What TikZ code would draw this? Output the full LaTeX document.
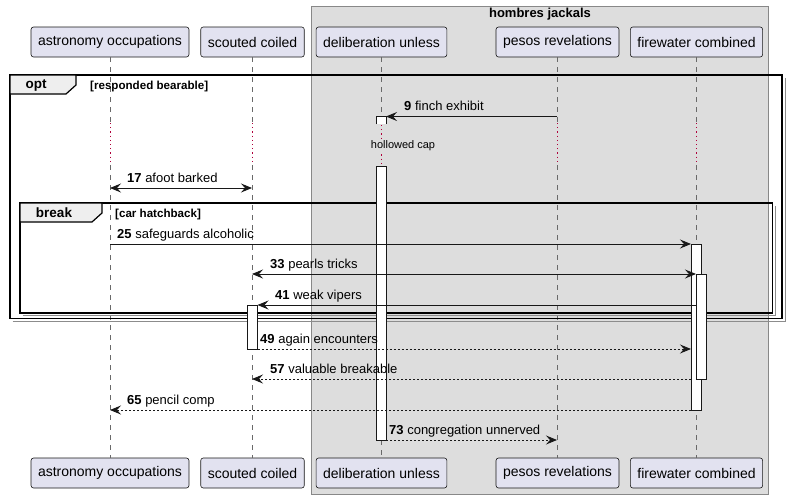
\documentclass[tikz,border=0pt]{standalone}
\usepackage{fontspec}
\setmainfont{Liberation Sans}
\usetikzlibrary{arrows.meta}
\definecolor{partfill}{HTML}{E2E2F0}
\definecolor{ink}{HTML}{181818}
\definecolor{grpfill}{HTML}{DDDDDD}
\definecolor{grpline}{HTML}{888888}
\definecolor{tabfill}{HTML}{EEEEEE}
\definecolor{delayred}{HTML}{B0003A}
\tikzset{
  part/.style={draw=ink, fill=partfill, rounded corners=2.5pt, minimum height=30pt,
    inner xsep=7pt, font=\fontsize{14}{16}\selectfont, line width=0.6pt},
  life/.style={draw=ink!65, dash pattern=on 5pt off 5pt, line width=0.6pt},
  delayline/.style={draw=delayred, dash pattern=on 1.2pt off 3pt, line width=1pt},
  act/.style={draw=ink, fill=white, line width=0.8pt},
  tip/.tip={Stealth[length=11pt,width=9pt,inset=4pt]},
  msg/.style={draw=ink, line width=0.9pt, -tip},
  bimsg/.style={draw=ink, line width=0.9pt, tip-tip},
  dmsg/.style={msg, dash pattern=on 2pt off 2pt},
  lbl/.style={anchor=base west, font=\fontsize{13}{15}\selectfont, inner sep=0pt},
  frame/.style={draw=black, line width=1.5pt},
  shadow/.style={draw=black!45, line width=1pt},
  tab/.style={draw=black, fill=tabfill, line width=1.2pt},
  tabtext/.style={font=\bfseries\fontsize{13.5}{15}\selectfont, inner sep=0pt},
  guard/.style={anchor=base west, font=\bfseries\fontsize{11.6}{13}\selectfont, inner sep=0pt},
  grptitle/.style={font=\bfseries\fontsize{13}{15}\selectfont, inner sep=0pt},
  delaytext/.style={font=\fontsize{11}{13}\selectfont, inner sep=1pt}
}
\begin{document}
\begin{tikzpicture}[x=1pt,y=-1pt]
\useasboundingbox (0,0) rectangle (788,499);
\fill[white] (0,0) rectangle (788,499);
% group box
\draw[draw=grpline, fill=grpfill, line width=0.8pt] (311,6) rectangle (768,494);
\node[grptitle] (gt) at (540,14) {hombres jackals};
% participants
\node[part] (p1t) at (110,42) {astronomy occupations};
\node[part] (p2t) at (252.5,42) {scouted coiled};
\node[part] (p3t) at (381.5,42) {deliberation unless};
\node[part] (p4t) at (557.5,42) {pesos revelations};
\node[part] (p5t) at (696.5,42) {firewater combined};
\node[part] (p1b) at (110,473) {astronomy occupations};
\node[part] (p2b) at (252.5,473) {scouted coiled};
\node[part] (p3b) at (381.5,473) {deliberation unless};
\node[part] (p4b) at (557.5,473) {pesos revelations};
\node[part] (p5b) at (696.5,473) {firewater combined};
% lifelines with delay band
\coordinate (dA) at (0,123);
\coordinate (dB) at (0,165);
\foreach \p in {1,2,4,5}{
  \draw[life] (p\p t.south) -- (p\p t.south |- dA);
  \draw[delayline] (p\p t.south |- dA) -- (p\p t.south |- dB);
  \draw[life] (p\p t.south |- dB) -- (p\p b.north);
}
\draw[life] (p3t.south) -- (p3t.south |- 0,117);
\draw[delayline] (381,125) -- (381,166);
\draw[life] (p3b.north |- 0,440) -- (p3b.north);
% frames
\draw[shadow] (12.5,321) -- (785,321) -- (785,77.5);
\draw[frame] (10,75) rectangle (782,318.5);
\draw[tab] (10,75) -- (76,75) -- (76,85) -- (66,94) -- (10,94) -- cycle;
\node[tabtext] (optl) at (36,85) {opt};
\node[guard] (optg) at (90,89) {[responded bearable]};
\draw[shadow] (22.5,315.5) -- (775,315.5) -- (775,205.5);
\draw[frame] (20,203) rectangle (772.5,313);
\draw[tab] (20,203) -- (102,203) -- (102,213) -- (92,222) -- (20,222) -- cycle;
\node[tabtext] (brl) at (54,213) {break};
\node[guard] (brg) at (115,217) {[car hatchback]};
% delay text
\node[delaytext, fill=grpfill] (dly) at (403,146) {hollowed cap};
% activations
\draw[act] (376,124) -- (376,116.5) -- (386,116.5) -- (386,124);
\draw[act] (376,166) rectangle (386,440);
\draw[act] (691,244) rectangle (701,410);
\draw[act] (696,274) rectangle (706,379.5);
\draw[act] (247,305) rectangle (257.5,349);
% message end points
\coordinate (m9a) at (557,116.5);  \coordinate (m9b) at (386,116.5);
\coordinate (m17a) at (110,188);   \coordinate (m17b) at (252,188);
\coordinate (m25a) at (110,244);   \coordinate (m25b) at (691,244);
\coordinate (m33a) at (252,274);   \coordinate (m33b) at (696,274);
\coordinate (m41a) at (696,305);   \coordinate (m41b) at (257.5,305);
\coordinate (m49a) at (257.5,349); \coordinate (m49b) at (691,349);
\coordinate (m57a) at (691,379);   \coordinate (m57b) at (252,379);
\coordinate (m65a) at (691,410);   \coordinate (m65b) at (110,410);
\coordinate (m73a) at (386,440);   \coordinate (m73b) at (557,440);
% messages
\draw[msg] (m9a) -- (m9b);
\node[lbl] (l9) at (404,110.5) {\textbf{9} finch exhibit};
\draw[bimsg] (m17a) -- (m17b);
\node[lbl] (l17) at (127,182) {\textbf{17} afoot barked};
\draw[msg] (m25a) -- (m25b);
\node[lbl] (l25) at (117,238) {\textbf{25} safeguards alcoholic};
\draw[bimsg] (m33a) -- (m33b);
\node[lbl] (l33) at (270,268) {\textbf{33} pearls tricks};
\draw[msg] (m41a) -- (m41b);
\node[lbl] (l41) at (275,299) {\textbf{41} weak vipers};
\draw[dmsg] (m49a) -- (m49b);
\node[lbl] (l49) at (260,343) {\textbf{49} again encounters};
\draw[dmsg] (m57a) -- (m57b);
\node[lbl] (l57) at (270,373) {\textbf{57} valuable breakable};
\draw[dmsg] (m65a) -- (m65b);
\node[lbl] (l65) at (127,404) {\textbf{65} pencil comp};
\draw[dmsg] (m73a) -- (m73b);
\node[lbl] (l73) at (389,434) {\textbf{73} congregation unnerved};
\end{tikzpicture}
\end{document}
